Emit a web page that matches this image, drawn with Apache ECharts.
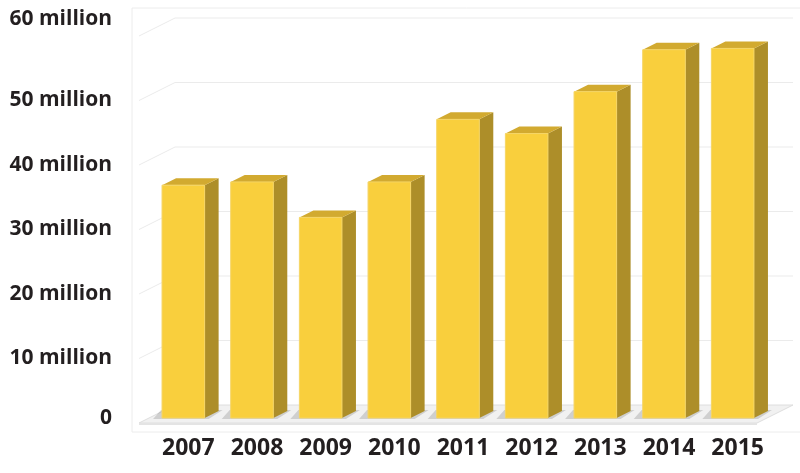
<!DOCTYPE html>
<html>
<head>
<meta charset="utf-8">
<script src="https://cdn.jsdelivr.net/npm/echarts@6/dist/echarts.min.js"></script>
<style>
  html, body { margin: 0; padding: 0; background: #fff; }
  #chart { width: 800px; height: 473px; }
</style>
</head>
<body>
<div id="chart"></div>
<script>
// values in millions
var years = ['2007', '2008', '2009', '2010', '2011', '2012', '2013', '2014', '2015']
var visitors = [36.1, 36.6, 31.1, 36.6, 46.3, 44.1, 50.6, 57.1, 57.3]
var yTicks = [0, 10, 20, 30, 40, 50, 60]

// fake 3d geometry (pixels)
var WALL_DX = 36, WALL_DY = -18
var BAR_DX = 10, BAR_DY = -5
var SIDE_DX = 14, SIDE_DY = -7

var FONT = '"Open Sans", "DejaVu Sans", sans-serif'

function renderWall (params, api) {
  var cs = params.coordSys
  var v = api.value(1)
  var y = api.coord([0, v])[1]
  var xl = cs.x, xr = cs.x + cs.width
  if (v === 0) {
    return {
      type: 'group',
      children: [
        {
          type: 'polygon',
          shape: { points: [[xl, y], [xr, y], [xr + WALL_DX, y + WALL_DY], [xl + WALL_DX, y + WALL_DY]] },
          style: { fill: '#f1f1f1', stroke: '#dedede', lineWidth: 1 }
        },
        {
          type: 'polygon',
          shape: { points: [[xl, y], [xr, y], [xr, y + 2], [xl, y + 2]] },
          style: { fill: '#e4e4e4' }
        }
      ]
    }
  }
  return {
    type: 'polyline',
    shape: { points: [[xl, y], [xl + WALL_DX, y + WALL_DY], [xr + WALL_DX, y + WALL_DY]] },
    style: { stroke: '#ebebeb', lineWidth: 1, fill: null }
  }
}

function renderBar (params, api) {
  var i = api.value(0)
  var base = api.coord([i, 0])
  var top = api.coord([i, api.value(1)])
  var w = api.size([1, 0])[0] * 0.62
  var x0 = base[0] - w / 2 + BAR_DX
  var x1 = x0 + w
  var yb = base[1] + BAR_DY
  var yt = top[1] + BAR_DY
  return {
    type: 'group',
    children: [
      {
        type: 'polygon',
        shape: { points: [[x0 - 9, yb + 1], [x1 + 4, yb + 1], [x1 + SIDE_DX + 4, yb + SIDE_DY - 1], [x0 + SIDE_DX - 15, yb + SIDE_DY - 1]] },
        style: { fill: 'rgba(0,0,0,0.14)' }
      },
      {
        type: 'polygon',
        shape: { points: [[x1, yb], [x1 + SIDE_DX, yb + SIDE_DY], [x1 + SIDE_DX, yt + SIDE_DY], [x1, yt]] },
        style: { fill: '#ad8e29' }
      },
      {
        type: 'polygon',
        shape: { points: [[x0, yt], [x1, yt], [x1 + SIDE_DX, yt + SIDE_DY], [x0 + SIDE_DX, yt + SIDE_DY]] },
        style: { fill: '#d2aa30' }
      },
      {
        type: 'rect',
        shape: { x: x0, y: yt, width: w, height: yb - yt },
        style: { fill: '#f9cf3d', stroke: '#f5d565', lineWidth: 1 }
      }
    ]
  }
}

var chart = echarts.init(document.getElementById('chart'))

chart.setOption({
  animation: false,
  backgroundColor: '#fff',
  graphic: [
    {
      type: 'rect',
      z: -10,
      shape: { x: 132, y: 8, width: 700, height: 424 },
      style: { fill: null, stroke: '#ececec', lineWidth: 1 }
    }
  ],
  grid: { left: 139, right: 43, top: 36, bottom: 50 },
  xAxis: {
    type: 'category',
    data: years,
    axisLine: { show: false },
    axisTick: { show: false },
    axisLabel: {
      margin: 14,
      padding: [0, 0, 0, 30],
      color: '#231f20',
      fontFamily: FONT,
      fontWeight: 'bold',
      fontSize: 23
    }
  },
  yAxis: {
    type: 'value',
    min: 0,
    max: 60,
    interval: 10,
    axisLine: { show: false },
    axisTick: { show: false },
    splitLine: { show: false },
    axisLabel: {
      margin: 27,
      color: '#231f20',
      fontFamily: FONT,
      fontWeight: 'bold',
      fontSize: 21,
      formatter: function (v) {
        if (v === 0) return '{zero|0}'
        if (v === 60) return '{top|' + v + ' million}'
        return v + ' million'
      },
      rich: {
        zero: { fontFamily: FONT, fontWeight: 'bold', fontSize: 21, color: '#231f20', padding: [0, 0, 10, 0] },
        top: { fontFamily: FONT, fontWeight: 'bold', fontSize: 21, color: '#231f20', padding: [0, 0, 34, 0] }
      }
    }
  },
  series: [
    {
      type: 'custom',
      name: 'walls',
      z: 1,
      silent: true,
      renderItem: renderWall,
      data: yTicks.map(function (t) { return [0, t] })
    },
    {
      type: 'custom',
      name: 'visitors',
      z: 2,
      renderItem: renderBar,
      data: years.map(function (y, i) { return [i, visitors[i]] })
    }
  ]
})
</script>
</body>
</html>
